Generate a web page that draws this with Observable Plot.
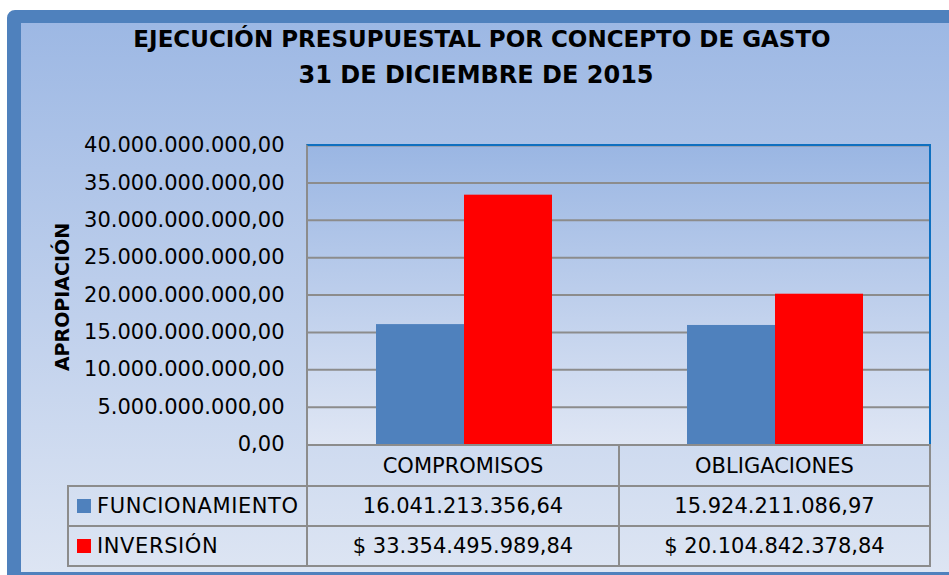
<!DOCTYPE html>
<html>
<head>
<meta charset="utf-8">
<script src="https://cdn.jsdelivr.net/npm/d3@7"></script>
<script src="https://cdn.jsdelivr.net/npm/@observablehq/plot@0.6"></script>
<style>
html, body { margin: 0; padding: 0; width: 949px; height: 575px; overflow: hidden; background: #ffffff; font-family: "DejaVu Sans", sans-serif; color: #000; }
.abs { position: absolute; }
#frame { left: 7px; top: 10px; width: 960px; height: 575px; box-sizing: border-box; border: 13px solid #4f81bd; border-left-width: 14px; border-radius: 8px; background: linear-gradient(to bottom, #9db8e4 0%, #dde5f3 100%); }
#plotbg { left: 307px; top: 145px; width: 623px; height: 299px; background: linear-gradient(to bottom, #9ab6e3 0%, #dfe6f4 100%); }
#plotborder { left: 306px; top: 144px; width: 625px; height: 301px; box-sizing: border-box; border-top: 2px solid #0f70c0; border-right: 2px solid #0f70c0; border-left: 2px solid #8c8c8c; }
.tline { left: 0; width: 964px; text-align: center; font-weight: bold; white-space: nowrap; }
#ylabel { left: 62px; top: 297px; transform: translate(-50%, -50%) rotate(-90deg); white-space: nowrap; font-weight: bold; font-size: 19px; }
.cell { display: flex; align-items: center; justify-content: center; font-size: 21px; white-space: nowrap; }
.rowlabel { letter-spacing: 0.6px; }
.line { background: #8c8c8c; }
.swatch { width: 14px; height: 14px; margin-right: 6px; flex: none; }
svg { position: absolute; left: 0; top: 0; }
</style>
</head>
<body>
<div id="frame" class="abs"></div>
<div id="plotbg" class="abs"></div>
<div id="chart"></div>
<div id="plotborder" class="abs"></div>
<div id="title1" class="abs tline" style="top:26px;font-size:23px;"></div>
<div id="title2" class="abs tline" style="top:61px;font-size:24px;width:952px;"></div>
<div id="ylabel" class="abs"></div>
<div id="table"></div>
<script>
// ---- data ----
const titleLines = ["EJECUCIÓN PRESUPUESTAL POR CONCEPTO DE GASTO", "31 DE DICIEMBRE DE 2015"];
const yLabel = "APROPIACIÓN";
const concepts = ["COMPROMISOS", "OBLIGACIONES"];
const series = ["FUNCIONAMIENTO", "INVERSIÓN"];
const funcionamiento = [16041213356.64, 15924211086.97];
const inversion = [33354495989.84, 20104842378.84];
const seriesColors = ["#4f81bd", "#ff0000"];
const yTicks = [0, 5e9, 10e9, 15e9, 20e9, 25e9, 30e9, 35e9, 40e9];

const rows = [];
concepts.forEach((c, i) => {
  rows.push({concept: c, series: series[0], value: funcionamiento[i]});
  rows.push({concept: c, series: series[1], value: inversion[i]});
});

const loc = d3.formatLocale({decimal: ",", thousands: ".", grouping: [3], currency: ["$ ", ""]});
const fmt = loc.format(",.2f");
const fmtCur = loc.format("$,.2f");

// ---- chart ----
const chart = Plot.plot({
  width: 949,
  height: 575,
  marginLeft: 307,
  marginRight: 19,
  marginTop: 145,
  marginBottom: 131,
  facet: {data: rows, x: "concept"},
  fx: {domain: concepts, padding: 0, axis: null},
  x: {domain: series, paddingInner: 0, paddingOuter: 0.76, axis: null},
  y: {domain: [0, 40e9], ticks: yTicks, tickFormat: fmt, tickSize: 0, tickPadding: 24, label: null},
  color: {domain: series, range: seriesColors},
  style: {fontFamily: "DejaVu Sans", fontSize: "21px", color: "#000", background: "transparent", overflow: "visible"},
  marks: [
    Plot.ruleY(yTicks.slice(1), {stroke: "#8c8c8c", strokeWidth: 2}),
    Plot.barY(rows, {x: "series", y: "value", fill: "series"})
  ]
});
document.getElementById("chart").appendChild(chart);

// ---- titles ----
document.getElementById("title1").textContent = titleLines[0];
document.getElementById("title2").textContent = titleLines[1];
document.getElementById("ylabel").textContent = yLabel;

// ---- data table ----
const table = document.getElementById("table");
function add(cls, l, t, w, h, html, style) {
  const d = document.createElement("div");
  d.className = "abs " + cls;
  Object.assign(d.style, {left: l + "px", top: t + "px", width: w + "px", height: h + "px"}, style || {});
  if (html != null) d.innerHTML = html;
  table.appendChild(d);
  return d;
}
const colX = [68, 307, 619, 930];
const rowY = [445, 486, 526, 566];
// header
concepts.forEach((c, j) => add("cell", colX[j + 1], rowY[0], colX[j + 2] - colX[j + 1], rowY[1] - rowY[0], c));
// rows
const values = [funcionamiento.map(fmt), inversion.map(fmtCur)];
series.forEach((s, i) => {
  add("cell rowlabel", colX[0] + 9, rowY[i + 1], colX[1] - colX[0] - 9, rowY[i + 2] - rowY[i + 1],
      `<span class="swatch" style="background:${seriesColors[i]}"></span>${s}`, {justifyContent: "flex-start"});
  values[i].forEach((v, j) => add("cell", colX[j + 1], rowY[i + 1], colX[j + 2] - colX[j + 1], rowY[i + 2] - rowY[i + 1], v));
});
// grid lines
add("line", colX[1] - 1, rowY[0] - 1, colX[3] - colX[1] + 2, 2);
for (let r = 1; r < rowY.length; r++) add("line", colX[0] - 1, rowY[r] - 1, colX[3] - colX[0] + 2, 2);
add("line", colX[0] - 1, rowY[1] - 1, 2, rowY[3] - rowY[1] + 2);
for (let c = 1; c < colX.length; c++) add("line", colX[c] - 1, rowY[0] - 1, 2, rowY[3] - rowY[0] + 2);
</script>
</body>
</html>
